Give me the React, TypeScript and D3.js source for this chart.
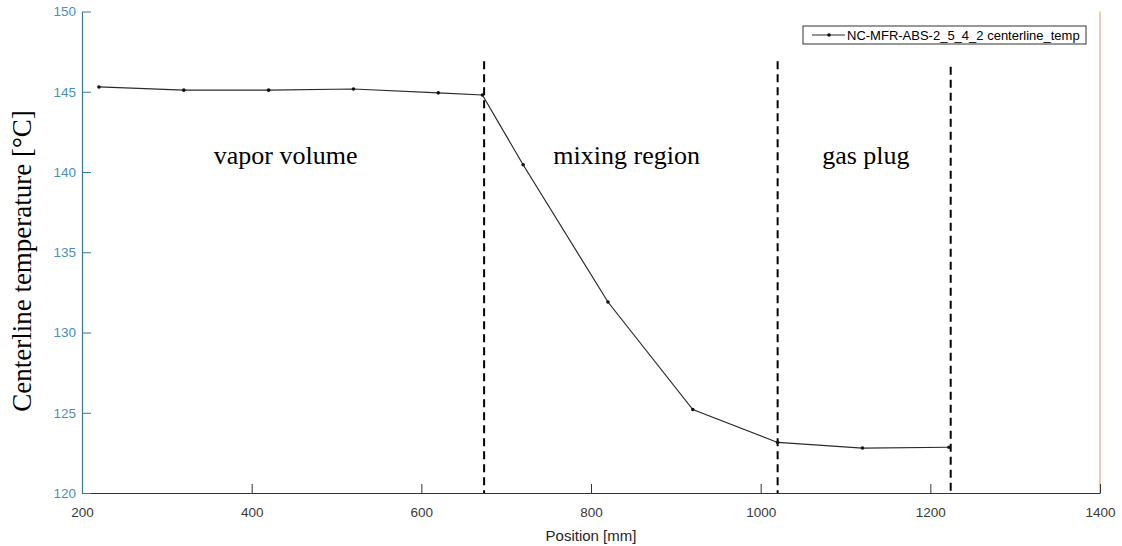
import React, { useEffect, useRef } from 'react';
import * as d3 from 'd3';

// data
const positions = [220, 320, 420, 520, 620, 672, 720, 820, 920, 1020, 1120, 1222];
const temps = [145.3, 145.1, 145.1, 145.17, 144.93, 144.8, 140.45, 131.9, 125.2, 123.15, 122.8, 122.85];
const boundaryX = [674, 1020, 1224];
const boundaryTop = [146.9, 146.9, 146.55];
const regionNames = ['vapor volume', 'mixing region', 'gas plug'];
const regionCenters = [440, 842, 1124];
const xTicks = [200, 400, 600, 800, 1000, 1200, 1400];
const yTicks = [120, 125, 130, 135, 140, 145, 150];
const seriesName = 'NC-MFR-ABS-2_5_4_2 centerline_temp';

const W = 1122;
const H = 546;

const App = () => {
  const ref = useRef<SVGSVGElement>(null);

  useEffect(() => {
    const svg = d3.select(ref.current);
    svg.selectAll('*').remove();

    const x = d3.scaleLinear().domain([200, 1400]).range([82, 1100]);
    const y = d3.scaleLinear().domain([120, 150]).range([493, 11.5]);

    const sans = 'Liberation Sans, Arial, sans-serif';
    const serif = 'Liberation Serif, Times New Roman, serif';

    // right axis line (orange)
    svg.append('line')
      .attr('x1', x(1400)).attr('x2', x(1400))
      .attr('y1', y(150)).attr('y2', y(120))
      .attr('stroke', '#d99a70').attr('stroke-width', 1);

    // x axis
    const xAxis = svg.append('g')
      .attr('transform', `translate(0,${y(120)})`)
      .call(d3.axisBottom(x).tickValues(xTicks).tickFormat(d3.format('d'))
        .tickSize(-9).tickPadding(14).tickSizeOuter(0));
    xAxis.select('.domain').attr('stroke', '#333').attr('stroke-width', 1.2);
    xAxis.selectAll('.tick line').attr('stroke', '#333');
    xAxis.selectAll('.tick text')
      .attr('fill', '#3a3a3a').style('font-size', '13.5px').attr('font-family', sans);

    // y axis (blue)
    const yAxis = svg.append('g')
      .attr('transform', `translate(${x(200)},0)`)
      .call(d3.axisLeft(y).tickValues(yTicks).tickFormat(d3.format('d'))
        .tickSize(-9).tickPadding(6).tickSizeOuter(0));
    yAxis.select('.domain').attr('stroke', '#35799a').attr('stroke-width', 1.2);
    yAxis.selectAll('.tick line').attr('stroke', '#35799a');
    yAxis.selectAll('.tick text')
      .attr('fill', '#4b8fb6').style('font-size', '13.5px').attr('font-family', sans);

    // dashed region boundaries
    svg.append('g').selectAll('line')
      .data(boundaryX)
      .enter()
      .append('line')
      .attr('x1', (d) => x(d)).attr('x2', (d) => x(d))
      .attr('y1', (d, i) => y(boundaryTop[i])).attr('y2', y(120))
      .attr('stroke', '#000').attr('stroke-width', 2)
      .attr('stroke-dasharray', '8,5');

    // region labels
    svg.append('g').selectAll('text')
      .data(regionNames)
      .enter()
      .append('text')
      .attr('x', (d, i) => x(regionCenters[i]))
      .attr('y', 164)
      .attr('text-anchor', 'middle')
      .attr('font-family', serif)
      .style('font-size', '26px')
      .attr('fill', '#000')
      .text((d) => d);

    // series line
    const pts = positions.map((p, i) => [p, temps[i]] as [number, number]);
    const line = d3.line<[number, number]>().x((d) => x(d[0])).y((d) => y(d[1]));
    svg.append('path')
      .attr('d', line(pts))
      .attr('fill', 'none')
      .attr('stroke', '#2b2b2b')
      .attr('stroke-width', 1.2);

    svg.append('g').selectAll('circle')
      .data(pts)
      .enter()
      .append('circle')
      .attr('cx', (d) => x(d[0]))
      .attr('cy', (d) => y(d[1]))
      .attr('r', 1.8)
      .attr('fill', '#111');

    // axis titles
    svg.append('text')
      .attr('x', x(800)).attr('y', 541)
      .attr('text-anchor', 'middle')
      .attr('font-family', sans).style('font-size', '15px').attr('fill', '#262626')
      .text('Position [mm]');

    svg.append('text')
      .attr('transform', 'translate(31,261) rotate(-90)')
      .attr('text-anchor', 'middle')
      .attr('font-family', serif).style('font-size', '27px').attr('fill', '#000')
      .text('Centerline temperature [°C]');

    // legend
    const lg = svg.append('g').attr('transform', 'translate(803,26)');
    lg.append('rect')
      .attr('width', 283).attr('height', 18)
      .attr('fill', '#fff').attr('stroke', '#333').attr('stroke-width', 1);
    lg.append('line')
      .attr('x1', 9).attr('x2', 42).attr('y1', 9).attr('y2', 9)
      .attr('stroke', '#2b2b2b').attr('stroke-width', 1.2);
    lg.append('circle').attr('cx', 26).attr('cy', 9).attr('r', 1.8).attr('fill', '#111');
    lg.append('text')
      .attr('x', 44).attr('y', 13.5)
      .attr('font-family', sans).style('font-size', '13px').attr('fill', '#000')
      .text(seriesName);
  }, []);

  return (
    <svg ref={ref} width={W} height={H}
      style={{ position: 'absolute', left: 0, top: 0, background: '#fff' }} />
  );
};

export default App;
